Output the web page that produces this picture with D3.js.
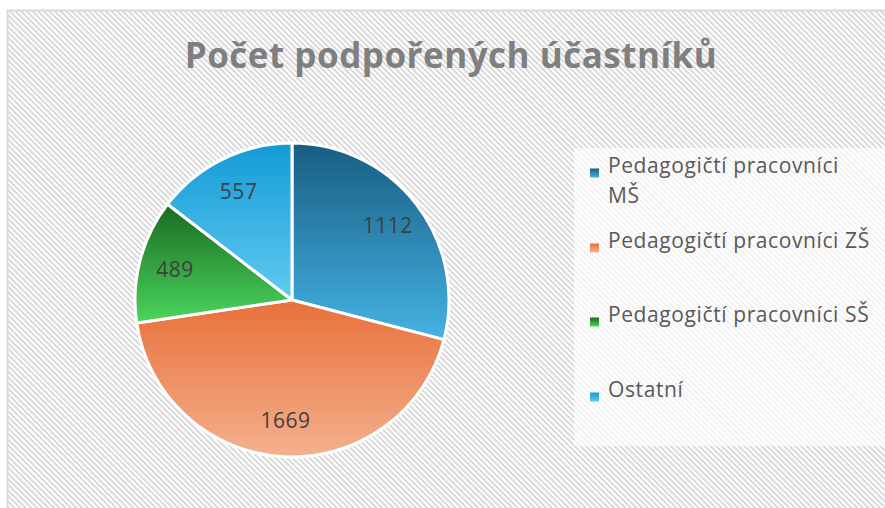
<!DOCTYPE html>
<html>
<head>
<meta charset="utf-8">
<script src="https://cdn.jsdelivr.net/npm/d3@7"></script>
<style>
  body { margin: 0; background: #fff; }
  text { font-family: "Open Sans", "DejaVu Sans", sans-serif; }
</style>
</head>
<body>
<div id="chart"></div>
<script>
var categories = ["Pedagogičtí pracovníci MŠ", "Pedagogičtí pracovníci ZŠ", "Pedagogičtí pracovníci SŠ", "Ostatní"];
var values = [1112, 1669, 489, 557];
var legendLines = [["Pedagogičtí pracovníci", "MŠ"], ["Pedagogičtí pracovníci ZŠ"], ["Pedagogičtí pracovníci SŠ"], ["Ostatní"]];
var gradTop = ["#175d82", "#e8703a", "#1a6a22", "#139bd5"];
var gradBottom = ["#46b2e4", "#f4b18e", "#4bd55c", "#62caf2"];

function init() {
    var w = 885;
    var h = 508;

    var svg = d3.select("#chart")
                  .append("svg")
                  .attr("width", w)
                  .attr("height", h);

    var defs = svg.append("defs");

    // diagonal hatching of the chart area
    var pat = defs.append("pattern")
                  .attr("id", "hatch")
                  .attr("patternUnits", "userSpaceOnUse")
                  .attr("width", 4)
                  .attr("height", 4)
                  .attr("patternTransform", "rotate(45)");
    pat.append("rect").attr("width", 4).attr("height", 4).attr("fill", "#ffffff");
    pat.append("rect").attr("width", 4).attr("height", 2).attr("fill", "#d9d9d9");

    categories.forEach(function(c, i) {
      var g = defs.append("linearGradient")
                  .attr("id", "grad" + i)
                  .attr("x1", 0).attr("y1", 0)
                  .attr("x2", 0).attr("y2", 1);
      g.append("stop").attr("offset", "0%").attr("stop-color", gradTop[i]);
      g.append("stop").attr("offset", "100%").attr("stop-color", gradBottom[i]);
    });

    svg.append("rect")
       .attr("x", 7.5).attr("y", 10.5)
       .attr("width", w).attr("height", h)
       .attr("fill", "url(#hatch)")
       .attr("stroke", "#d9d9d9")
       .attr("stroke-width", 2);

    svg.append("text")
       .attr("x", 451)
       .attr("y", 68)
       .attr("text-anchor", "middle")
       .attr("font-size", "35px")
       .attr("letter-spacing", "0.5px")
       .attr("font-weight", "bold")
       .attr("fill", "#7f7f7f")
       .text("Počet podpořených účastníků");

    // pie
    var cx = 292, cy = 300;
    var outerRadius = 157;

    var pie = d3.pie().sort(null);
    var arc = d3.arc().innerRadius(0).outerRadius(outerRadius);
    var labelArc = d3.arc().innerRadius(outerRadius * 0.77).outerRadius(outerRadius * 0.77);

    var arcs = svg.selectAll("g.arc")
                    .data(pie(values))
                    .enter()
                    .append("g")
                    .attr("class", "arc")
                    .attr("transform", "translate(" + cx + "," + cy + ")");

    arcs.append("path")
        .attr("d", arc)
        .attr("fill", function(d, i) { return "url(#grad" + i + ")"; })
        .attr("stroke", "#ffffff")
        .attr("stroke-width", 3)
        .attr("stroke-linejoin", "round");

    arcs.append("text")
        .text(function(d) { return d.value; })
        .attr("transform", function(d) { return "translate(" + labelArc.centroid(d) + ")"; })
        .attr("text-anchor", "middle")
        .attr("dy", "0.35em")
        .attr("font-size", "21px")
        .attr("letter-spacing", "0.5px")
        .attr("fill", "#404040");

    // legend
    svg.append("rect")
       .attr("x", 574).attr("y", 148)
       .attr("width", 320).attr("height", 298)
       .attr("fill", "#ffffff")
       .attr("fill-opacity", 0.65);

    var rowY = [173, 248, 322, 397];
    var leg = svg.selectAll("g.legend")
                 .data(categories)
                 .enter()
                 .append("g")
                 .attr("class", "legend")
                 .attr("transform", function(d, i) { return "translate(590," + rowY[i] + ")"; });

    leg.append("rect")
       .attr("x", 0).attr("y", -4.5)
       .attr("width", 9).attr("height", 9)
       .attr("fill", function(d, i) { return "url(#grad" + i + ")"; });

    leg.append("text")
       .attr("x", 18)
       .attr("y", 0)
       .attr("dy", "0.35em")
       .attr("font-size", "21px")
       .attr("letter-spacing", "0.6px")
       .attr("fill", "#595959")
       .selectAll("tspan")
       .data(function(d, i) { return legendLines[i]; })
       .enter()
       .append("tspan")
       .attr("x", 18)
       .attr("dy", function(d, j) { return j === 0 ? 0 : 30; })
       .text(function(d) { return d; });
}

window.onload = init;
</script>
</body>
</html>
